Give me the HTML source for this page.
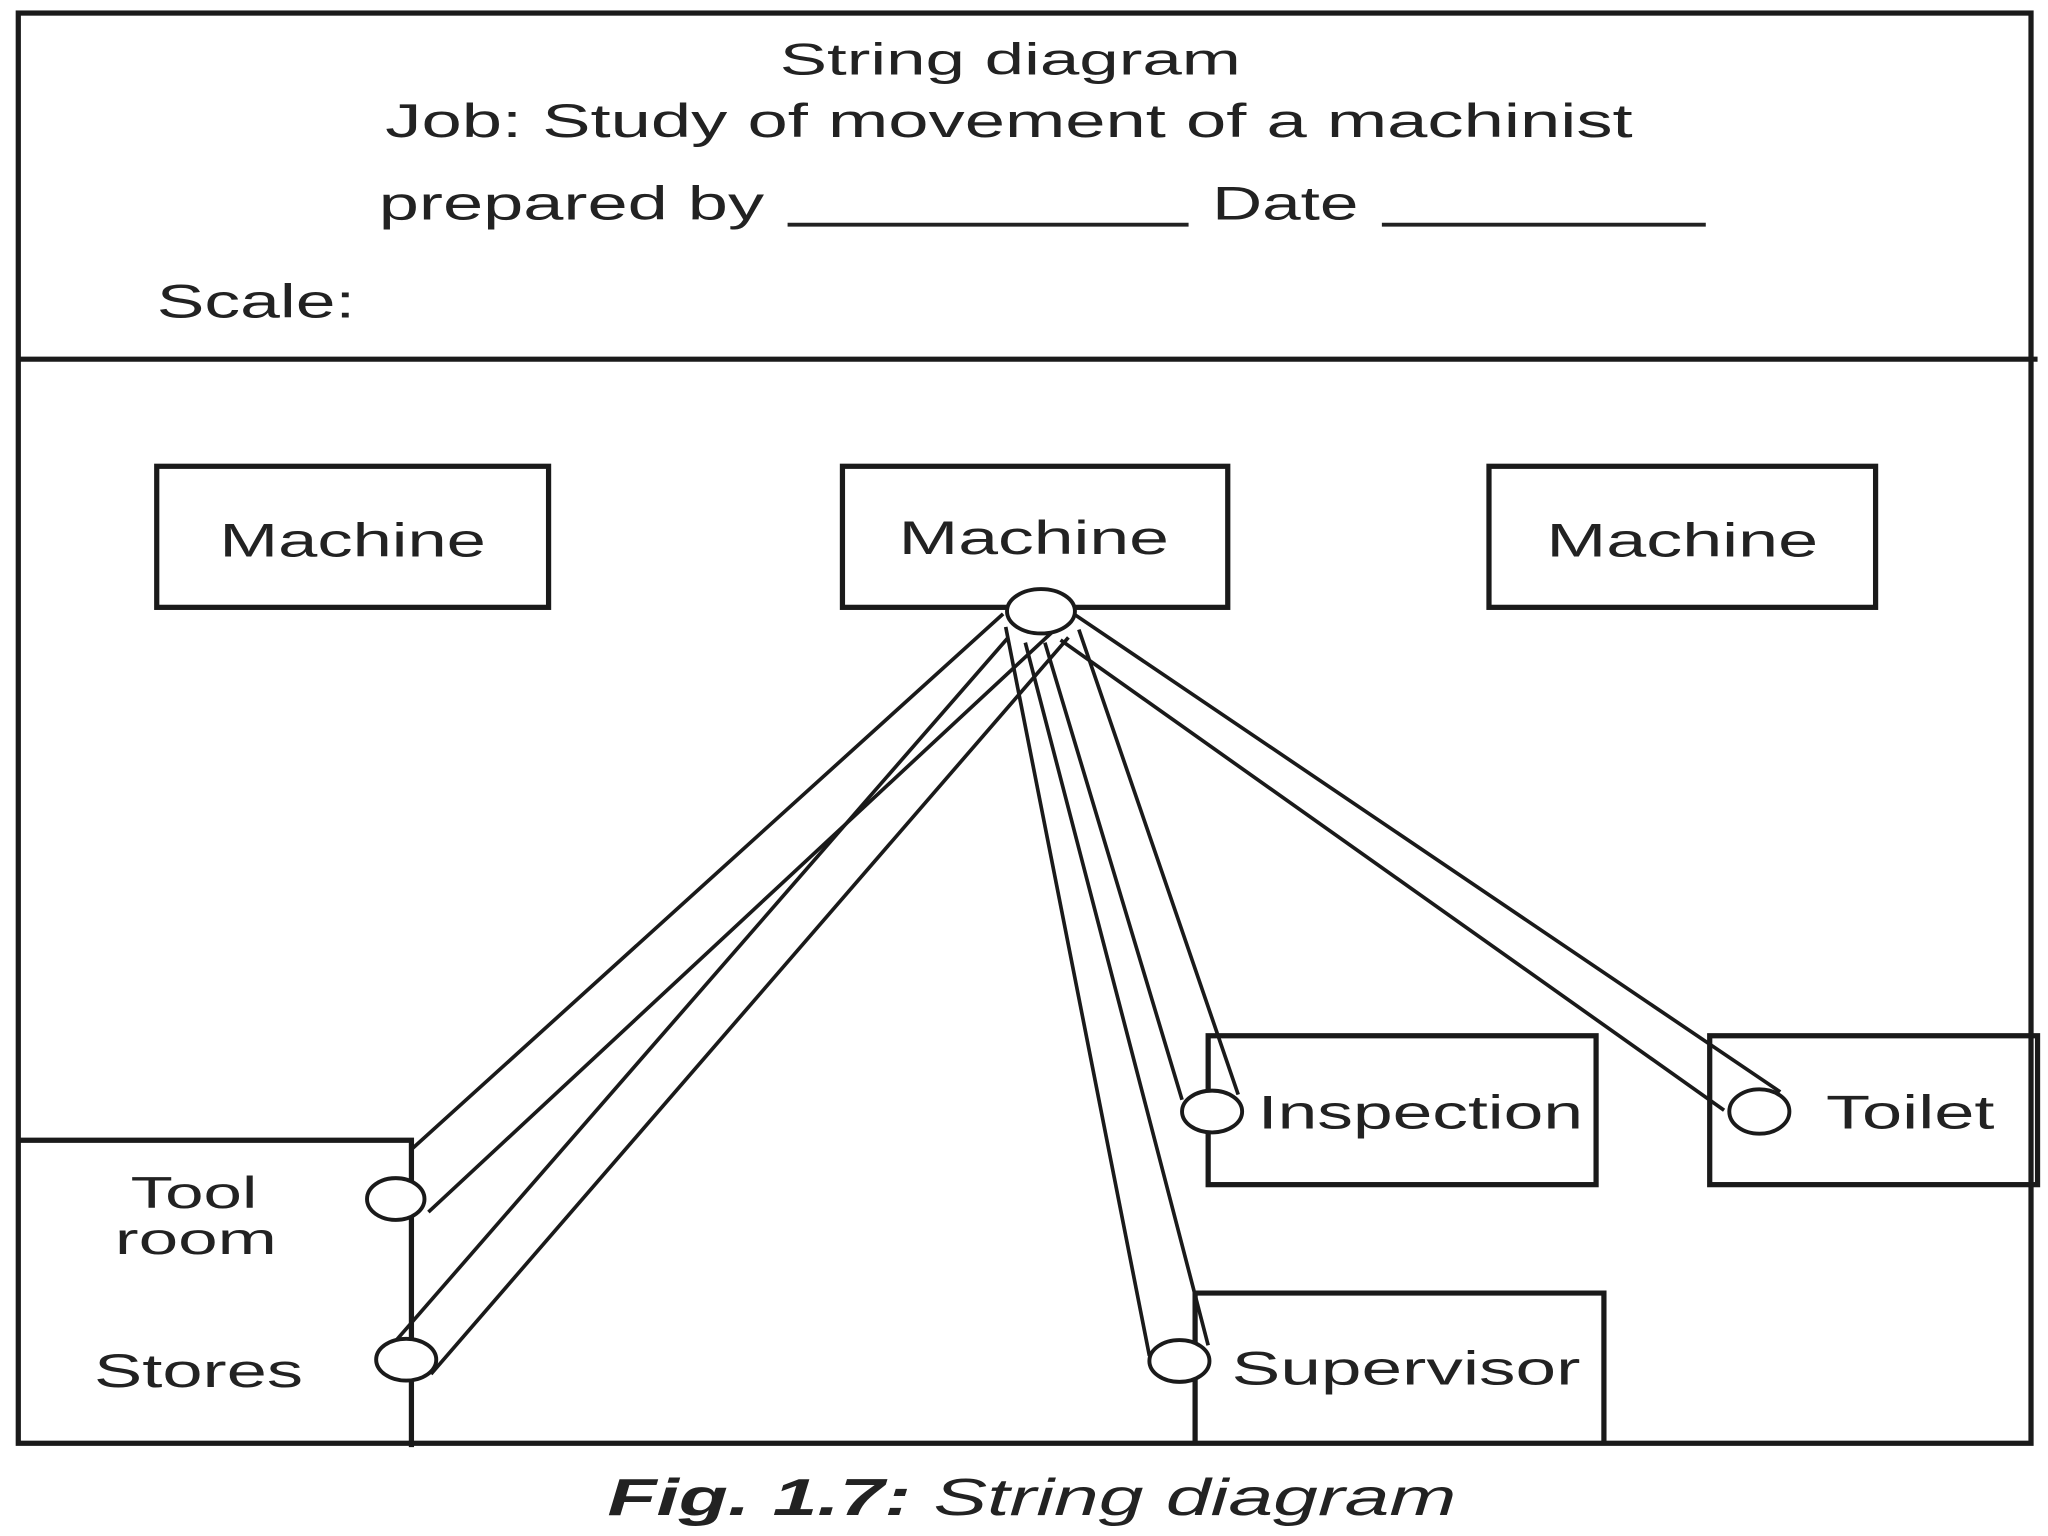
<!DOCTYPE html>
<html><head><style>
html,body{margin:0;padding:0;background:#fff;}
svg{display:block;}
text{font-family:"Liberation Sans",sans-serif;fill:#222;}
</style></head><body>
<svg width="2048" height="1536" viewBox="0 0 1568 1176" xmlns="http://www.w3.org/2000/svg">
<g fill="none" stroke="#1a1a1a" stroke-width="4">
<rect x="14" y="10" width="1541" height="1095"/>
<line x1="14" y1="275" x2="1560" y2="275"/>
<rect x="120" y="357" width="300" height="108"/>
<rect x="645" y="357" width="295" height="108"/>
<rect x="1140" y="357" width="296" height="108"/>
<polyline points="14,873 315,873 315,1108"/>
<rect x="925" y="793" width="297" height="114"/>
<rect x="1309" y="793" width="251" height="114"/>
<polyline points="915,1105 915,990 1228,990 1228,1105"/>
</g>
<g stroke="#222" stroke-width="3">
<line x1="603" y1="172" x2="910" y2="172"/>
<line x1="1058" y1="172" x2="1306" y2="172"/>
</g>
<g fill="none" stroke="#1a1a1a" stroke-width="2.8">
<line x1="768" y1="470" x2="315" y2="880"/>
<line x1="812" y1="478" x2="328" y2="928"/>
<line x1="772" y1="488" x2="300" y2="1030"/>
<line x1="818" y1="488" x2="330" y2="1052"/>
<line x1="770" y1="480" x2="880" y2="1038"/>
<line x1="785" y1="492" x2="925" y2="1030"/>
<line x1="800" y1="492" x2="905" y2="842"/>
<line x1="826" y1="482" x2="948" y2="838"/>
<line x1="822" y1="470" x2="1363" y2="836"/>
<line x1="812" y1="490" x2="1320" y2="850"/>
</g>
<g fill="#fff" stroke="#1a1a1a" stroke-width="3">
<ellipse cx="797" cy="468" rx="26" ry="17"/>
<ellipse cx="303" cy="918" rx="22" ry="16"/>
<ellipse cx="311" cy="1041" rx="23" ry="16"/>
<ellipse cx="928" cy="851" rx="23" ry="16"/>
<ellipse cx="1347" cy="851" rx="23" ry="17"/>
<ellipse cx="903" cy="1042" rx="23" ry="16"/>
</g>
<g lengthAdjust="spacingAndGlyphs">
<text x="597" y="57" font-size="34" textLength="353" lengthAdjust="spacingAndGlyphs">String diagram</text>
<text x="295" y="105" font-size="36" textLength="955" lengthAdjust="spacingAndGlyphs">Job: Study of movement of a machinist</text>
<text x="290" y="168" font-size="36" textLength="295" lengthAdjust="spacingAndGlyphs">prepared by</text>
<text x="928" y="168" font-size="36" textLength="112" lengthAdjust="spacingAndGlyphs">Date</text>
<text x="120" y="243" font-size="36" textLength="152" lengthAdjust="spacingAndGlyphs">Scale:</text>
<text x="168" y="426" font-size="36" textLength="204" lengthAdjust="spacingAndGlyphs">Machine</text>
<text x="688" y="424" font-size="36" textLength="207" lengthAdjust="spacingAndGlyphs">Machine</text>
<text x="1184" y="426" font-size="36" textLength="208" lengthAdjust="spacingAndGlyphs">Machine</text>
<text x="100" y="925" font-size="34" textLength="97" lengthAdjust="spacingAndGlyphs">Tool</text>
<text x="88" y="960" font-size="34" textLength="124" lengthAdjust="spacingAndGlyphs">room</text>
<text x="72" y="1062" font-size="36" textLength="160" lengthAdjust="spacingAndGlyphs">Stores</text>
<text x="963" y="864" font-size="36" textLength="249" lengthAdjust="spacingAndGlyphs">Inspection</text>
<text x="1398" y="864" font-size="36" textLength="129" lengthAdjust="spacingAndGlyphs">Toilet</text>
<text x="943" y="1060" font-size="36" textLength="267" lengthAdjust="spacingAndGlyphs">Supervisor</text>
<text x="465" y="1160" font-size="40" font-style="italic" textLength="650" lengthAdjust="spacingAndGlyphs"><tspan font-weight="bold">Fig. 1.7:</tspan> String diagram</text>
</g>
</svg>
</body></html>
